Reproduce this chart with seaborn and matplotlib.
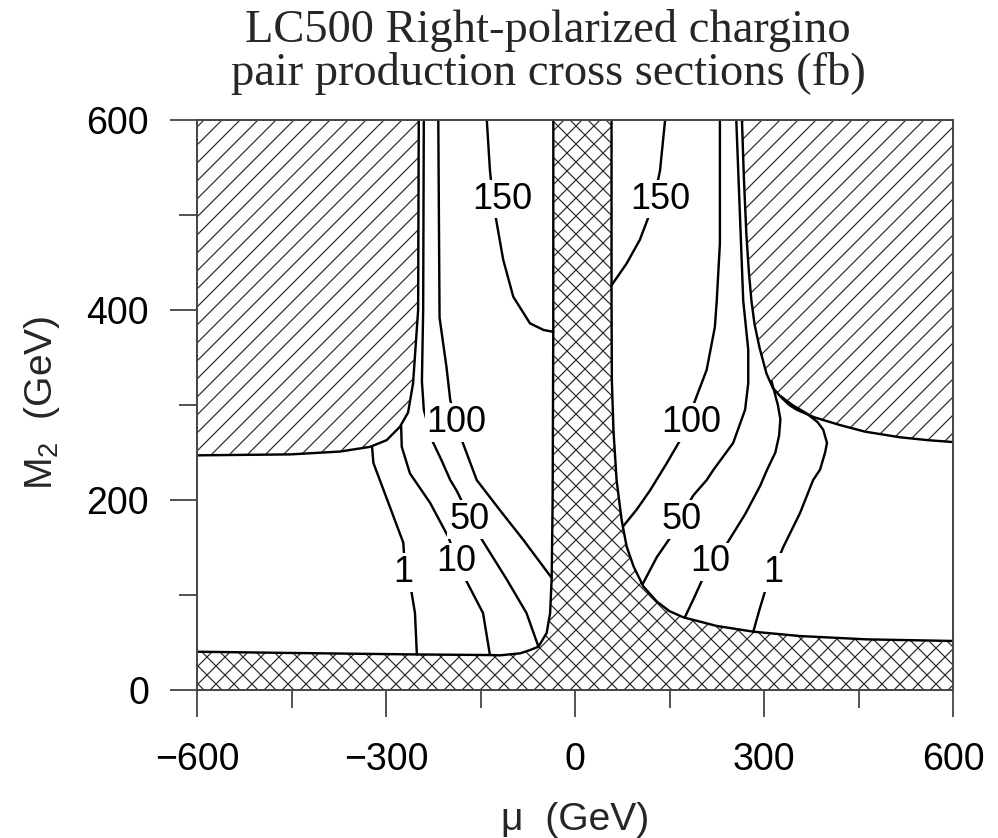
import numpy as np
import pandas as pd
import matplotlib
matplotlib.use("Agg")
import matplotlib.pyplot as plt
from matplotlib.ticker import AutoMinorLocator
import seaborn as sns

# ---------------- data (mu, M2 in GeV) ----------------
title_line1 = "LC500 Right-polarized chargino"
title_line2 = "pair production cross sections (fb)"
x_ticks = [-600, -300, 0, 300, 600]
y_ticks = [0, 200, 400, 600]

# kinematic limit (hatched /// region above it)
ul_bound_mu = [-600, -452, -373, -325, -299, -278, -265, -257, -249, -248]
ul_bound_m2 = [247, 248, 251, 256, 263, 277, 292, 323, 400, 600]
ur_bound_mu = [265, 268, 272, 276, 280, 285, 293, 304, 314, 326, 340, 352, 380, 420, 460, 516, 560, 600]
ur_bound_m2 = [600, 540, 480, 440, 410, 385, 360, 333, 318, 309, 300, 295, 287, 279, 272, 266, 263, 261]

# excluded region (cross-hatched), left edge from top down to the left border
ex_left_mu = [-34.4, -34.5, -35.5, -37, -39.5, -45, -58, -71.5, -87, -119, -135, -250, -300, -452, -600]
ex_left_m2 = [600, 377, 200, 118, 81, 60, 45.6, 42, 38.6, 36.5, 36.8, 37.4, 37.8, 39, 40.3]
# right edge from top down to the right border
ex_right_mu = [58, 58, 58.5, 61, 66, 74, 82, 93, 108.5, 130, 150, 172, 225, 283, 357, 463, 600]
ex_right_m2 = [600, 410, 326, 274, 221, 179, 151, 130, 109, 93, 83, 76.5, 67.4, 61.4, 56.8, 53.3, 51.6]

# cross-section contours (fb)
c150_l_mu = [-140, -135, -131, -127, -114, -98, -71.5, -50, -34.4]
c150_l_m2 = [600, 547, 521, 502, 453, 414, 386, 379, 377]
c100_l_mu = [-217, -215, -204, -198, -190, -182.5, -156, -120, -82, -55, -37]
c100_l_m2 = [600, 392, 340, 305, 286, 268, 221, 190, 158, 134, 118]
c50_l_mu = [-240, -241, -243, -240, -227, -212, -198, -188, -168.5, -156, -108, -77, -58]
c50_l_m2 = [600, 400, 325, 295, 263, 242, 221, 210, 184, 167, 116, 81, 45.6]
c10_l_mu = [-276, -275, -262, -230, -201, -189, -175, -146, -135]
c10_l_m2 = [278, 256, 228, 197, 161, 139, 118, 81, 36.8]
c1_l_mu = [-322, -320, -294, -272.5, -270, -262, -254, -251]
c1_l_m2 = [255, 239, 193, 155, 128, 113, 81, 37.4]

c150_r_mu = [143, 135, 127, 119, 103, 82, 58]
c150_r_m2 = [600, 547, 521, 502, 474, 449, 426]
c100_r_mu = [230, 230, 225, 222, 209, 193, 180, 167, 145, 119, 98, 76]
c100_r_m2 = [600, 470, 410, 382, 337, 309, 286, 263, 238, 210, 190, 172]
c50_r_mu = [256, 267, 275, 275, 270, 251, 220, 209, 188, 169, 156, 130, 107]
c50_r_m2 = [600, 410, 358, 323, 295, 260, 232, 221, 205, 184, 165, 140, 111]
c10_r_mu = [312, 322, 326, 324, 318, 305, 294, 270, 241, 215, 204, 189, 174]
c10_r_m2 = [325, 300, 285, 268, 250, 232, 215, 185, 154, 139, 119, 97, 76]
c1_r_mu = [327, 345, 368, 385, 394, 400, 397, 389, 378, 357, 331, 316, 304, 293, 283]
c1_r_m2 = [309, 300, 291, 282, 274, 260, 250, 232, 221, 186, 151, 128, 109, 85, 61.4]

# contour label positions and texts
label_text = ["150", "100", "50", "10", "1", "150", "100", "50", "10", "1"]
label_mu = [-116, -188, -168, -189, -273, 135, 185, 169, 215, 315]
label_m2 = [521, 286, 184, 139, 128, 521, 286, 184, 139, 128]

# ---------------- styling ----------------
sns.set_theme(style="ticks")
DPI = 108
plt.rcParams["font.family"] = ["Liberation Sans", "DejaVu Sans"]
plt.rcParams["mathtext.fontset"] = "custom"
plt.rcParams["mathtext.rm"] = "Liberation Sans"
plt.rcParams["mathtext.default"] = "regular"
plt.rcParams["hatch.linewidth"] = 0.8

fig = plt.figure(figsize=(998 / DPI, 838 / DPI), dpi=DPI)
ax = fig.add_axes([197 / 998, 1 - 690 / 838, 756 / 998, 570 / 838])
ax.set_xlim(-600, 600)
ax.set_ylim(0, 600)

hatch_col = "#2a2a2a"
# hatched regions
ax.fill(ul_bound_mu + [-600], ul_bound_m2 + [600], facecolor="none",
        edgecolor=hatch_col, linewidth=0, hatch="//", zorder=1)
ax.fill(ur_bound_mu + [600], ur_bound_m2 + [600], facecolor="none",
        edgecolor=hatch_col, linewidth=0, hatch="//", zorder=1)
ex_mu = ex_left_mu + [-600, 600] + ex_right_mu[::-1]
ex_m2 = ex_left_m2 + [0, 0] + ex_right_m2[::-1]
ax.fill(ex_mu, ex_m2, facecolor="none", edgecolor=hatch_col, linewidth=0,
        hatch="xx", zorder=1)

lines = [
    (ul_bound_mu, ul_bound_m2), (ur_bound_mu, ur_bound_m2),
    (ex_left_mu, ex_left_m2), (ex_right_mu, ex_right_m2),
    (c150_l_mu, c150_l_m2), (c100_l_mu, c100_l_m2), (c50_l_mu, c50_l_m2),
    (c10_l_mu, c10_l_m2), (c1_l_mu, c1_l_m2),
    (c150_r_mu, c150_r_m2), (c100_r_mu, c100_r_m2), (c50_r_mu, c50_r_m2),
    (c10_r_mu, c10_r_m2), (c1_r_mu, c1_r_m2),
]
for mu, m2 in lines:
    df = pd.DataFrame({"mu": mu, "m2": m2})
    sns.lineplot(data=df, x="mu", y="m2", sort=False, estimator=None,
                 color="black", linewidth=1.6, ax=ax, zorder=3)

for t, mu, m2 in zip(label_text, label_mu, label_m2):
    ax.text(mu, m2, t, ha="center", va="center_baseline", fontsize=24,
            family=["Liberation Sans Narrow", "Liberation Sans"],
            color="black",
            bbox=dict(boxstyle="square,pad=0.05", fc="white", ec="none"),
            zorder=5)

# axes, ticks and labels
ax.set_xticks(x_ticks)
ax.set_yticks(y_ticks)
ax.set_xticklabels([f"{v}".replace("-", "\u2212") for v in x_ticks])
ax.xaxis.set_minor_locator(AutoMinorLocator(2))
ax.yaxis.set_minor_locator(AutoMinorLocator(2))
ax.tick_params(which="major", direction="out", length=18, width=1.1,
               color="#333333", labelsize=25, labelcolor="black")
ax.tick_params(axis="x", which="major", pad=17)
ax.tick_params(axis="y", which="major", pad=14)
ax.tick_params(which="minor", direction="out", length=12, width=1.1,
               color="#333333")
for s in ax.spines.values():
    s.set_color("#444444")
    s.set_linewidth(1.3)
    s.set_zorder(4)

ax.set_xlabel("\u03bc  (GeV)", fontsize=26, va="center")
ax.xaxis.set_label_coords(0.5, (690 - 820) / 570)
ax.set_ylabel("M$_2$  (GeV)", fontsize=26, va="center")
ax.yaxis.set_label_coords((42 - 197) / 756, (690 - 403) / 570)

fig.text(548 / 998, 1 - 42 / 838, title_line1, ha="center", va="baseline",
         fontsize=31, family=["Liberation Serif", "DejaVu Serif"])
fig.text(548 / 998, 1 - 85 / 838, title_line2, ha="center", va="baseline",
         fontsize=31, family=["Liberation Serif", "DejaVu Serif"])

fig.savefig("out.png", dpi=DPI)
